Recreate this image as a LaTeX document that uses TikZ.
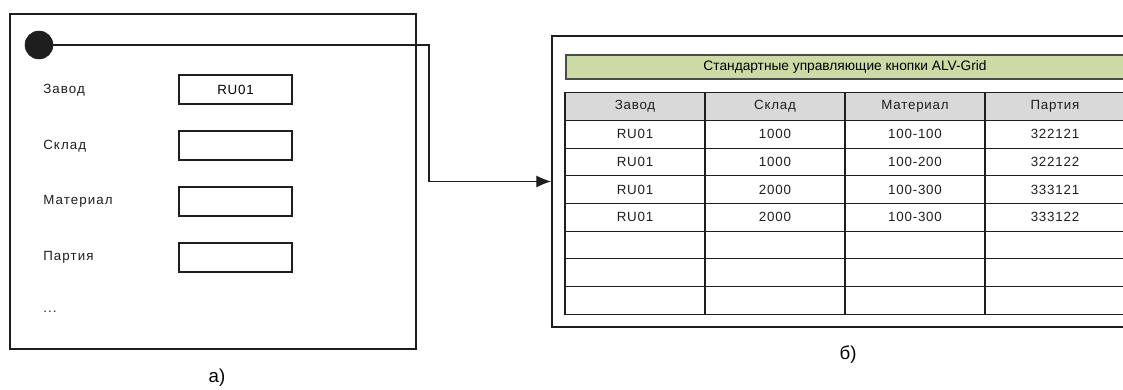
\documentclass[tikz,border=0pt]{standalone}
\usepackage{fontspec}
\setmainfont{Liberation Sans}
\usetikzlibrary{arrows.meta,positioning,calc}
\definecolor{barGreen}{HTML}{CCDAA6}
\definecolor{headGray}{HTML}{D9D9D9}
\definecolor{inkGray}{HTML}{1E1E1E}

\begin{document}
\begin{tikzpicture}[x=0.75pt, y=-0.75pt,
        frame/.style  = {draw=inkGray, line width=1.4pt, inner sep=0pt},
        label/.style  = {anchor=west, inner sep=0pt, text=inkGray, font=\fontsize{10}{12}\selectfont\addfontfeature{LetterSpace=8}},
        field/.style  = {draw=inkGray, line width=0.9pt, minimum width=84.75pt, minimum height=21.75pt, inner sep=0pt, font=\fontsize{10}{12}\selectfont\addfontfeature{LetterSpace=6}},
        cell/.style   = {draw=inkGray, line width=0.8pt, minimum width=105pt, minimum height=20.8pt, inner sep=0pt, text=inkGray, font=\fontsize{10}{12}\selectfont\addfontfeature{LetterSpace=6}},
        head/.style   = {cell, fill=headGray},
        caption/.style= {font=\fontsize{14}{16}\selectfont},
        >={Latex[length=11pt, width=9pt]}]

        \useasboundingbox (0,0) rectangle (1123,389);

        % selection screen, left
        \node[frame, minimum width=304.5pt, minimum height=251.25pt] (screen) at (213,181.5) {};
        \node[circle, fill=inkGray, draw=inkGray, minimum size=21pt, inner sep=0pt] (start) at (39,45) {};

        \begin{scope}[every node/.style={label}]
            \node (l1) at (43,90)  {Завод};
            \node (l2) at (43,146) {Склад};
            \node (l3) at (43,201) {Материал};
            \node (l4) at (43,257) {Партия};
            \node (l5) at (43,312) {...};
        \end{scope}

        \node[field] (f1) at (235.5,89.5)  {RU01};
        \node[field] (f2) at (235.5,145.5) {};
        \node[field] (f3) at (235.5,201.5) {};
        \node[field] (f4) at (235.5,257.5) {};

        \node[caption] (capa) at (217,378) {а)};

        % ALV list, right
        \node[frame, minimum width=438.75pt, minimum height=218.25pt] (grid) at (844.5,181.5) {};
        \node[draw=inkGray!80, line width=0.8pt, fill=barGreen, minimum width=418.5pt, minimum height=18pt, inner sep=0pt,
              font=\fontsize{10.3}{12}\selectfont] (bar) at (845,67) {Стандартные управляющие кнопки ALV-Grid};

        % table header and rows
        \foreach \col [count=\i from 0] in {Завод,Склад,Материал,Партия}
            \node[head] (h\i) at (635+140*\i,106.5) {\col};

        \foreach \a/\b/\c/\d [count=\r] in {RU01/1000/100-100/322121, RU01/1000/100-200/322122,
                                             RU01/2000/100-300/333121, RU01/2000/100-300/333122, ///, ///, ///}
        {
            \node[cell] (c\r-0) at (635,106.5+27.7*\r) {\a};
            \node[cell] (c\r-1) at (775,106.5+27.7*\r) {\b};
            \node[cell] (c\r-2) at (915,106.5+27.7*\r) {\c};
            \node[cell] (c\r-3) at (1055,106.5+27.7*\r) {\d};
        }

        \node[caption] (capb) at (848,355) {б)};

        % link from the screen to the list
        \coordinate (bend) at (429,45);
        \draw[->, line width=0.8pt, draw=inkGray] (start.east) -- (bend) |- (grid.west);

\end{tikzpicture}
\end{document}
